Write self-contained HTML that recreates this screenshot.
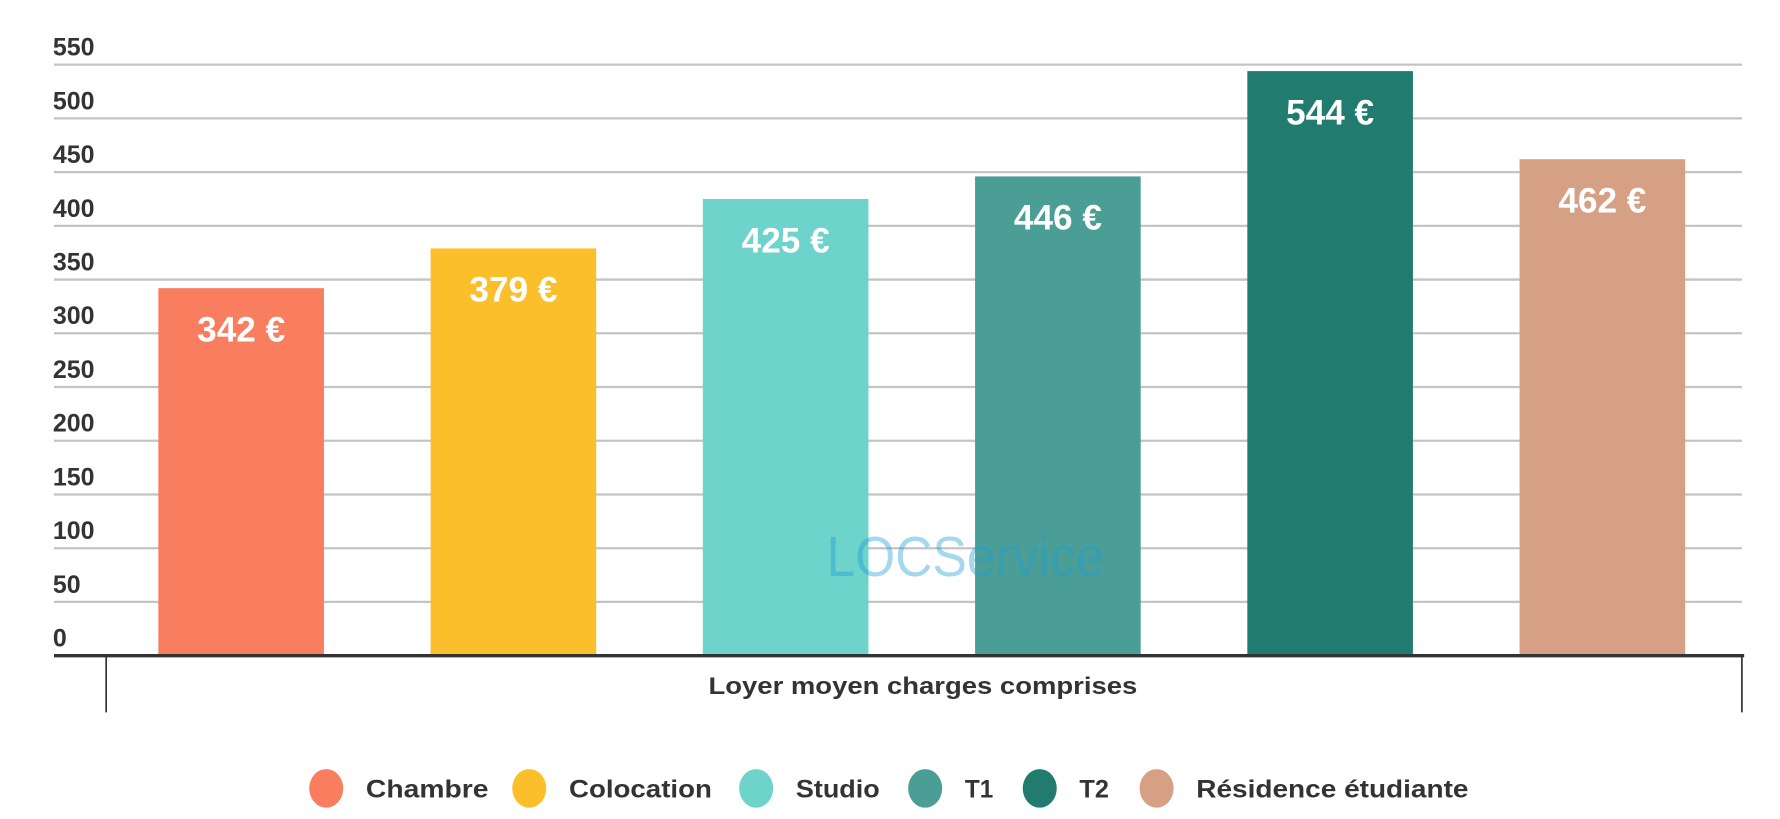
<!DOCTYPE html>
<html><head><meta charset="utf-8"><style>
html,body{margin:0;padding:0;background:#fff;width:1780px;height:819px;overflow:hidden}
svg{display:block}
text{font-family:"Liberation Sans",sans-serif}
</style></head><body>
<svg id="chart" width="1780" height="819" viewBox="0 0 1568 722" xmlns="http://www.w3.org/2000/svg"></svg>
<script>
const categories = ["Chambre","Colocation","Studio","T1","T2","Résidence étudiante"];
const values = [342,379,425,446,544,462];
const valueLabels = ["342 €","379 €","425 €","446 €","544 €","462 €"];
const yTicks = [0,50,100,150,200,250,300,350,400,450,500,550];
const colors = ["#F97E60","#FBBF2C","#6DD3CB","#4A9E95","#227B6F","#D6A084"];

const NS="http://www.w3.org/2000/svg";
const svg=document.getElementById('chart');
function el(tag,attrs,parent){const e=document.createElementNS(NS,tag);for(const k in attrs)e.setAttribute(k,attrs[k]);(parent||svg).appendChild(e);return e;}
const y0=578,yTop=57,vMax=550;
const yScale=v=>y0-(v/vMax)*(y0-yTop);
const xCenter=i=>212+i*240;
const barW=146;

yTicks.forEach(t=>{
  const y=yScale(t);
  if(t>0){const l=el('line',{x1:47,x2:1535,y1:y,y2:y,stroke:'#c4c4c4','stroke-width':2});
  
  }
  const tx=el('text',{x:46,y:y-8,'font-size':22,fill:'#333','font-weight':'bold'});
  tx.textContent=t;
  
  
});

values.forEach((v,i)=>{
  const y=yScale(v);
  const r=el('rect',{x:xCenter(i)-barW/2,y:y,width:barW,height:y0-y,fill:colors[i]});
  
  
  const t=el('text',{x:xCenter(i),y:y+47,'font-size':31,fill:'#fff','text-anchor':'middle','font-weight':'bold'});
  t.textContent=valueLabels[i];
  
  
});

const wm=el('text',{x:728,y:508,'font-size':50,fill:'#1e9ad6','fill-opacity':0.4,textLength:245,lengthAdjust:'spacingAndGlyphs'});
wm.textContent='LOCService';



const ax=el('line',{x1:47,x2:1537,y1:y0,y2:y0,stroke:'#333','stroke-width':3});


[93,1535].forEach((x,k)=>{const l=el('line',{x1:x,x2:x,y1:y0,y2:628,stroke:'#333','stroke-width':1.5});

});
const xt=el('text',{x:813,y:612,'font-size':21,fill:'#333','text-anchor':'middle','font-weight':'bold',textLength:378,lengthAdjust:'spacingAndGlyphs'});
xt.textContent='Loyer moyen charges comprises';



const legX=[287,466,666,815,916,1019];
const legW=[108,126,74,25,26,240];
categories.forEach((c,i)=>{
  const g=el('g',{});
  
  
  el('ellipse',{cx:legX[i],cy:695,rx:15,ry:17,fill:colors[i]},g);
  const t=el('text',{x:legX[i]+35,y:703,'font-size':22,fill:'#333','font-weight':'bold',textLength:legW[i],lengthAdjust:'spacingAndGlyphs'},g);
  t.textContent=c;
});
</script>
</body></html>
